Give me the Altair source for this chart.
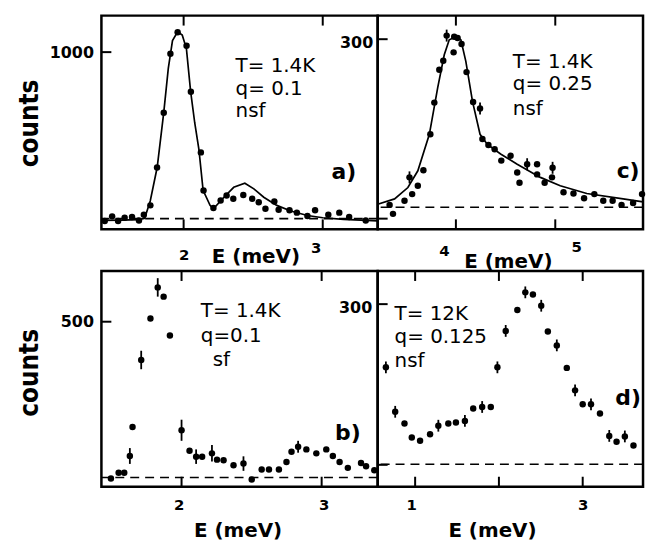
import altair as alt
import pandas as pd

FONT = "DejaVu Sans"
TITLE_FONT = "Liberation Sans Narrow, DejaVu Sans Condensed, DejaVu Sans"

# ---------------- panel a : T=1.4K, q=0.1, nsf ----------------
a_E = [1.433, 1.486, 1.529, 1.576, 1.629, 1.679, 1.714, 1.761, 1.809, 1.857, 1.905, 1.957,
       2.021, 2.052, 2.124, 2.143, 2.214, 2.266, 2.309, 2.357, 2.429, 2.493, 2.540, 2.588,
       2.652, 2.683, 2.761, 2.814, 2.890, 2.945, 3.040, 3.119, 3.190, 3.309]
a_counts = [47, 73, 47, 65, 69, 50, 82, 135, 349, 658, 991, 1112,
            1036, 776, 434, 219, 120, 163, 191, 172, 194, 172, 153, 116,
            157, 110, 107, 94, 75, 107, 82, 94, 69, 50]
a_err = [0] * len(a_E)
a_fit_E = [1.409, 1.55, 1.68, 1.72, 1.76, 1.81, 1.857, 1.89, 1.92, 1.957, 1.99, 2.02, 2.05,
           2.08, 2.11, 2.14, 2.19, 2.214, 2.29, 2.36, 2.44, 2.505, 2.576, 2.67, 2.77, 2.89,
           3.0, 3.15, 3.395]
a_fit_counts = [50, 52, 55, 62, 160, 350, 658, 910, 1065, 1115, 1097, 1020, 780,
                600, 450, 220, 135, 116, 181, 237, 260, 228, 181, 135, 103, 78,
                65, 56, 47]
a_background = [60]

# ---------------- panel c : T=1.4K, q=0.25, nsf ----------------
c_E = [3.333, 3.367, 3.483, 3.533, 3.560, 3.617, 3.673, 3.743, 3.783, 3.833, 3.873, 3.907,
       3.977, 3.983, 4.017, 4.057, 4.107, 4.173, 4.243, 4.267, 4.327, 4.390, 4.457, 4.550,
       4.617, 4.640, 4.717, 4.817, 4.817, 4.893, 4.967, 4.973, 5.083, 5.183, 5.290, 5.393,
       5.483, 5.577, 5.667, 5.783, 5.873]
c_counts = [23, 8, 30, 69, 41, 55, 81, 141, 194, 249, 264, 306,
            278, 304, 302, 292, 245, 195, 184, 133, 123, 116, 97, 105,
            77, 60, 91, 91, 74, 60, 69, 85, 44, 42, 34, 41,
            30, 30, 23, 26, 41]
c_err = [0, 0, 0, 10, 0, 0, 0, 0, 0, 0, 0, 10,
         0, 0, 0, 0, 0, 0, 10, 0, 0, 0, 0, 0,
         0, 0, 10, 0, 0, 0, 0, 10, 0, 0, 0, 0,
         0, 0, 0, 0, 0]
c_fit_E = [3.213, 3.383, 3.517, 3.617, 3.733, 3.817, 3.883, 3.933, 4.000, 4.050, 4.100,
           4.167, 4.243, 4.317, 4.450, 4.617, 4.850, 5.050, 5.317, 5.683, 5.883]
c_fit_counts = [24, 33, 52, 80, 141, 219, 274, 299, 304, 299, 263,
                196, 141, 124, 108, 91, 69, 55, 42, 33, 28]
c_background = [19]

# ---------------- panel b : T=1.4K, q=0.1, sf ----------------
b_E = [1.496, 1.551, 1.591, 1.631, 1.650, 1.712, 1.778, 1.830, 1.872, 1.917, 2.000, 2.057,
       2.104, 2.147, 2.217, 2.253, 2.300, 2.371, 2.442, 2.501, 2.572, 2.624, 2.695, 2.749,
       2.785, 2.832, 2.891, 2.962, 3.033, 3.080, 3.128, 3.187, 3.281, 3.317, 3.376]
b_counts = [25, 42, 42, 93, 181, 384, 510, 604, 576, 458, 171, 109,
            91, 91, 101, 82, 80, 65, 70, 22, 52, 52, 52, 75,
            106, 121, 113, 101, 113, 93, 75, 57, 72, 62, 50]
b_err = [0, 0, 0, 24, 0, 28, 0, 28, 0, 0, 32, 0,
         22, 0, 25, 0, 0, 0, 22, 0, 0, 0, 0, 0,
         0, 18, 0, 0, 0, 0, 0, 0, 0, 0, 0]
b_background = [28]

# ---------------- panel d : T=12K, q=0.125, nsf ----------------
d_E = [0.651, 0.762, 0.873, 0.960, 1.059, 1.178, 1.277, 1.396, 1.487, 1.594, 1.693, 1.800,
       1.903, 1.982, 2.081, 2.220, 2.315, 2.406, 2.505, 2.584, 2.691, 2.810, 2.909, 3.000,
       3.099, 3.206, 3.317, 3.404, 3.503, 3.606]
d_counts = [182, 99, 77, 51, 45, 57, 73, 77, 79, 82, 105, 108,
            108, 182, 250, 289, 322, 318, 297, 249, 223, 181, 139, 113,
            113, 96, 54, 43, 53, 36]
d_err = [11, 11, 0, 0, 0, 0, 11, 0, 0, 11, 0, 11,
         0, 11, 11, 0, 11, 0, 11, 0, 11, 0, 11, 0,
         11, 0, 11, 0, 11, 0]
d_background = [1]


def cond(value_for, default):
    """per-label axis property: {tick value: setting}"""
    if not value_for:
        return default
    expr = " : ".join([f"datum.value == {k} ? {v}" for k, v in value_for.items()] + [str(default)])
    return {"expr": expr}


def make_panel(pE, pc, perr, fE, fc, bg, xdom, ydom, w, h,
               xlabels, xticks, ylabels, yticks, xaxis_kw, yaxis_kw, notes, letter):
    xs = alt.Scale(domain=xdom, nice=False, zero=False)
    ys = alt.Scale(domain=ydom, nice=False, zero=False)
    xaxis = alt.Axis(values=xlabels, ticks=False, tickSize=0, domain=False, grid=False,
                     format="d",
                     labelFont=FONT, labelFontWeight="bold", labelFontSize=15,
                     labelColor="black", labelBaseline="middle",
                     titleFont=FONT, titleFontWeight="bold", titleFontSize=20,
                     titleColor="black", titleAlign="center", titleBaseline="middle",
                     title="E (meV)", **xaxis_kw)
    yaxis = alt.Axis(values=ylabels, ticks=False, tickSize=0, domain=False, grid=False,
                     format="d",
                     labelFont=FONT, labelFontWeight="bold", labelFontSize=16,
                     labelColor="black", labelBaseline="middle",
                     titleFont=TITLE_FONT, titleFontWeight="bold", titleFontSize=26,
                     titleColor="black", titleAngle=270, titleAlign="center",
                     titleBaseline="middle", **yaxis_kw)

    def X(field="E"):
        return alt.X(f"{field}:Q", scale=xs, axis=xaxis)

    def Y(field="counts"):
        return alt.Y(f"{field}:Q", scale=ys, axis=yaxis)

    layers = []
    bg_df = pd.DataFrame({"counts": bg})
    layers.append(alt.Chart(bg_df).mark_rule(color="black", strokeWidth=1.6,
                                             strokeDash=[9, 6]).encode(y=Y()))
    if fE is not None:
        fit_df = pd.DataFrame({"E": fE, "counts": fc})
        layers.append(alt.Chart(fit_df).mark_line(color="black", strokeWidth=1.7, clip=True)
                      .encode(x=X(), y=Y()))
    pts = pd.DataFrame({"E": pE, "counts": pc, "err": perr})
    eb = pts[pts["err"] > 0].copy()
    eb["lo"] = eb["counts"] - eb["err"]
    eb["hi"] = eb["counts"] + eb["err"]
    if len(eb):
        layers.append(alt.Chart(eb).mark_rule(color="black", strokeWidth=1.8)
                      .encode(x=X(), y=Y("lo"), y2=alt.Y2("hi:Q")))
    layers.append(alt.Chart(pts).mark_circle(color="black", size=42, opacity=1)
                  .encode(x=X(), y=Y()))
    xt = pd.DataFrame({"E": xticks})
    layers.append(alt.Chart(xt).mark_rule(color="black", strokeWidth=2)
                  .encode(x=X(), y=alt.value(0), y2=alt.value(10)))
    layers.append(alt.Chart(xt).mark_rule(color="black", strokeWidth=2)
                  .encode(x=X(), y=alt.value(h), y2=alt.value(h - 10)))
    yt = pd.DataFrame({"counts": yticks})
    layers.append(alt.Chart(yt).mark_rule(color="black", strokeWidth=2)
                  .encode(y=Y(), x=alt.value(0), x2=alt.value(10)))
    one = pd.DataFrame({"k": [0]})
    for txt, tx, ty in notes:
        layers.append(alt.Chart(one).mark_text(font=FONT, fontSize=20, color="black",
                                               align="left", baseline="top")
                      .encode(x=alt.value(tx), y=alt.value(ty), text=alt.value(txt)))
    ltxt, lx, ly = letter
    layers.append(alt.Chart(one).mark_text(font=FONT, fontSize=22, fontWeight="bold",
                                           color="black", align="center",
                                           baseline="alphabetic")
                  .encode(x=alt.value(lx), y=alt.value(ly), text=alt.value(ltxt)))
    return alt.layer(*layers).properties(width=w, height=h)


panel_a = make_panel(
    a_E, a_counts, a_err, a_fit_E, a_fit_counts, a_background,
    [1.409, 3.395], [0, 1206], 278, 215,
    [2, 3], [2, 3], [1000], [1000],
    dict(labelOffset=cond({3: -7}, 0), labelPadding=cond({3: 18}, 25), titleX=155, titleY=27),
    dict(title="counts", labelPadding=8, titleX=-72, titleY=108),
    [("T= 1.4K", 135, 41), ("q= 0.1", 135, 64), ("nsf", 135, 86)],
    ("a)", 244, 164))

panel_c = make_panel(
    c_E, c_counts, c_err, c_fit_E, c_fit_counts, c_background,
    [3.213, 5.883], [-17.8, 339.4], 267, 215,
    [4, 5], [4, 5], [300], [0, 300],
    dict(labelOffset=cond({4: -12, 5: 21}, 0), labelPadding=cond({4: 21, 5: 17}, 20),
         titleX=131, titleY=32),
    dict(title=None, labelPadding=5, labelOffset=3),
    [("T= 1.4K", 136, 37), ("q= 0.25", 136, 59), ("nsf", 136, 84)],
    ("c)", 252, 163))

panel_b = make_panel(
    b_E, b_counts, b_err, None, None, b_background,
    [1.428, 3.400], [0, 653.6], 278, 217,
    [2, 3], [2, 3], [500], [500],
    dict(labelOffset=cond({2: -3, 3: 2}, 0), labelPadding=18, titleX=137, titleY=44),
    dict(title="counts", labelPadding=8, titleX=-72, titleY=102),
    [("T= 1.4K", 100, 30), ("q=0.1", 100, 55), ("sf", 112, 80)],
    ("b)", 248, 170))

panel_d = make_panel(
    d_E, d_counts, d_err, None, None, d_background,
    [0.553, 3.720], [-40.8, 361.8], 267, 217,
    [1, 3], [1, 2, 3], [300], [0, 300],
    dict(labelOffset=cond({1: -4}, 0), labelPadding=18, titleX=115, titleY=44),
    dict(title=None, labelPadding=6, labelOffset=3),
    [("T= 12K", 17, 33), ("q= 0.125", 17, 56), ("nsf", 17, 81)],
    ("d)", 252, 135))

chart = alt.concat(panel_a, panel_c, panel_b, panel_d, columns=2,
                   spacing={"row": 42, "column": 0}, bounds="flush").properties(
    padding={"left": 7, "top": 3, "right": 0, "bottom": 0},
    background="white",
).configure_view(stroke="black", strokeWidth=2.5)

chart.save("out.html", embed_options={"renderer": "svg", "actions": False})
